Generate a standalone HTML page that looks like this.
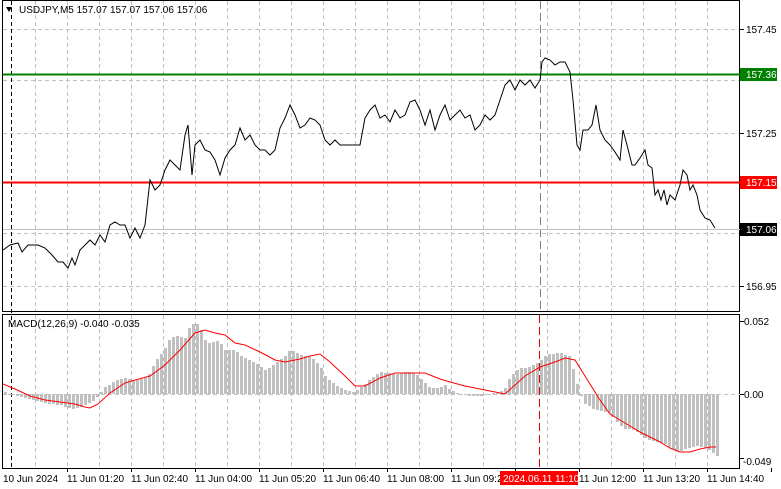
<!DOCTYPE html>
<html><head><meta charset="utf-8"><style>
html,body{margin:0;padding:0;background:#fff;width:781px;height:489px;overflow:hidden}
svg{display:block}
text{font-family:"Liberation Sans",Tahoma,sans-serif;font-size:10px;fill:#000}
</style></head><body>
<svg id="s" width="781" height="489" viewBox="0 0 781 489" xmlns="http://www.w3.org/2000/svg">
<rect x="0" y="0" width="781" height="489" fill="#fff"/>
<g id="grid" stroke="#c0c0c0" stroke-dasharray="4,3" stroke-width="1"></g>
<!-- frames -->
<rect x="2.5" y="0.5" width="737" height="311" fill="none" stroke="#000"/>
<rect x="2.5" y="314.5" width="737" height="154" fill="none" stroke="#000"/>
<!-- tick marks right -->
<g stroke="#000" id="ticks"></g>
<line x1="11.5" y1="1" x2="11.5" y2="468" stroke="#000" stroke-dasharray="4,3"/>
<line x1="540.5" y1="1" x2="540.5" y2="311" stroke="#808080" stroke-dasharray="8,4"/>
<line x1="539.5" y1="315" x2="539.5" y2="468" stroke="#e00000" stroke-dasharray="8,4"/>
<!-- levels -->
<line x1="3" y1="74.5" x2="740" y2="74.5" stroke="#008000" stroke-width="2"/>
<line x1="3" y1="182.5" x2="740" y2="182.5" stroke="#ff0000" stroke-width="2"/>
<line x1="3" y1="229.5" x2="740" y2="229.5" stroke="#c0c0c0"/>
<line x1="3" y1="394.5" x2="740" y2="394.5" stroke="#c0c0c0" stroke-dasharray="4,3"/>
<g id="hist" fill="#c0c0c0"></g>
<path id="price" fill="none" stroke="#000" stroke-width="1"/>
<path id="sig" fill="none" stroke="#ff0000" stroke-width="1"/>
<!-- right labels -->
<text x="746" y="33">157.45</text>
<text x="746" y="137">157.25</text>
<text x="746" y="290">156.95</text>
<rect x="740" y="68" width="37" height="13" fill="#008000"/>
<text x="746" y="78" style="fill:#fff">157.36</text>
<rect x="740" y="176" width="37" height="13" fill="#ff0000"/>
<text x="746" y="186" style="fill:#fff">157.15</text>
<rect x="740" y="223" width="37" height="13" fill="#000"/>
<text x="746" y="233" style="fill:#fff">157.06</text>
<text x="744" y="325">0.052</text>
<text x="744" y="398">0.00</text>
<text x="743" y="465">-0.049</text>
<!-- titles -->
<path d="M6 7 L12 7 L9 12 Z" fill="#000"/>
<text x="19" y="13">USDJPY,M5  157.07 157.07 157.06 157.06</text>
<text x="8" y="327">MACD(12,26,9) -0.040 -0.035</text>
<!-- time labels -->
<g id="tl"></g>
</svg>
<script>
var NS="http://www.w3.org/2000/svg";
function el(t,a,p){var e=document.createElementNS(NS,t);for(var k in a)e.setAttribute(k,a[k]);(p||document.getElementById('s')).appendChild(e);return e;}
var g=document.getElementById('grid');
for(var x=35;x<740;x+=32){el('line',{x1:x+.5,y1:1,x2:x+.5,y2:311},g);el('line',{x1:x+.5,y1:315,x2:x+.5,y2:468},g);}
[29,80,133,182,233,286].forEach(function(y){el('line',{x1:3,y1:y+.5,x2:740,y2:y+.5},g);});
var tk=document.getElementById('ticks');
[29,80,133,182,233,286,321,394,458].forEach(function(y){el('line',{x1:740,y1:y+.5,x2:744,y2:y+.5},tk);});
var tl=document.getElementById('tl');
var labs=["10 Jun 2024","11 Jun 01:20","11 Jun 02:40","11 Jun 04:00","11 Jun 05:20","11 Jun 06:40","11 Jun 08:00","11 Jun 09:20","","11 Jun 12:00","11 Jun 13:20","11 Jun 14:40"];
labs.forEach(function(l,i){var x=3+i*64;if(l){var t=el('text',{x:x,y:482},tl);t.textContent=l;}
 el('line',{x1:x+64+.5,y1:468,x2:x+64+.5,y2:472},tl).setAttribute('stroke','#000');});
el('rect',{x:500,y:471,width:78,height:14,fill:'#ff0000'},tl);
var tt=el('text',{x:503,y:482,style:'fill:#fff'},tl);tt.textContent="2024.06.11 11:10";
var P=[[3,250],[10,245],[18,243],[22,252],[28,245],[38,245],[45,248],[52,255],[58,262],[63,262],[68,268],[72,258],[75,265],[80,250],[85,245],[90,240],[95,245],[100,235],[105,242],[110,225],[115,222],[120,225],[125,225],[130,238],[135,228],[140,238],[145,225],[150,180],[155,190],[160,185],[165,170],[170,160],[175,165],[180,170],[185,135],[188,125],[192,175],[195,145],[200,140],[205,150],[210,152],[215,160],[220,175],[225,158],[230,150],[235,145],[240,128],[245,140],[250,135],[255,145],[260,150],[265,150],[270,155],[275,150],[280,128],[285,118],[290,105],[295,115],[300,128],[305,125],[310,118],[315,120],[320,125],[325,140],[330,145],[335,140],[340,145],[350,145],[360,145],[365,118],[370,110],[375,105],[380,118],[385,115],[390,122],[395,110],[400,118],[405,115],[410,102],[415,100],[420,110],[425,125],[430,110],[435,130],[440,115],[445,105],[450,120],[455,115],[460,110],[465,118],[470,115],[475,130],[480,125],[485,115],[490,120],[495,115],[500,100],[505,85],[510,80],[515,90],[520,80],[525,85],[530,80],[535,88],[540,80],[542,62],[545,58],[550,60],[555,65],[560,62],[565,62],[570,72],[573,100],[577,145],[580,150],[583,130],[588,130],[592,125],[596,105],[600,130],[605,140],[610,145],[615,152],[620,160],[623,130],[627,145],[632,165],[635,165],[640,158],[645,150],[648,165],[652,168],[655,195],[658,190],[661,200],[664,190],[667,205],[670,195],[675,200],[680,185],[683,170],[687,175],[690,190],[693,185],[697,195],[700,210],[705,218],[710,220],[715,228]];
document.getElementById('price').setAttribute('d','M'+P.map(function(p){return p.join(' ')}).join(' L'));
var H=[[5,392],[15,396],[25,398],[35,400],[45,403],[60,405],[70,408],[75,409],[85,405],[95,400],[100,393],[105,387],[115,381],[125,378],[135,380],[145,378],[150,373],[155,362],[160,355],[165,348],[170,338],[175,336],[180,337],[185,338],[190,326],[195,322],[200,328],[205,340],[210,344],[215,340],[220,342],[225,350],[235,350],[240,355],[245,358],[255,363],[265,370],[270,368],[275,363],[285,356],[290,350],[295,352],[300,355],[310,356],[320,366],[325,376],[335,385],[345,390],[355,392],[360,388],[365,384],[375,375],[380,372],[395,374],[405,372],[415,373],[420,378],[430,388],[440,388],[445,385],[450,390],[455,392],[460,394],[470,396],[480,396],[490,394],[500,392],[505,388],[510,377],[515,372],[520,368],[530,367],[535,364],[540,361],[545,356],[550,354],[560,353],[570,356],[575,378],[580,394],[585,404],[595,410],[605,412],[610,413],[615,420],[620,425],[625,429],[635,430],[645,438],[655,442],[665,444],[670,448],[680,452],[685,449],[695,446],[705,448],[712,452],[716,456]];
function interp(A,x){if(x<=A[0][0])return A[0][1];for(var i=1;i<A.length;i++){if(x<=A[i][0]){var a=A[i-1],b=A[i];return a[1]+(b[1]-a[1])*(x-a[0])/(b[0]-a[0]);}}return A[A.length-1][1];}
var hg=document.getElementById('hist');
for(var x=4;x<=716;x+=4){var y=Math.round(interp(H,x+1));var t=Math.min(y,394),h=Math.abs(y-394);if(h<1)h=1;el('rect',{x:x,y:t,width:3,height:h},hg);}
var S=[[3,384],[15,389],[30,396],[45,400],[60,402],[75,404],[85,407],[90,408],[98,404],[110,393],[125,383],[135,380],[150,376],[165,365],[180,350],[195,333],[205,330],[215,333],[225,335],[235,343],[245,345],[260,352],[275,360],[285,362],[300,359],[310,356],[320,354],[330,362],[345,376],[355,386],[365,386],[380,378],[395,373],[410,373],[425,373],[440,379],[450,382],[465,386],[480,389],[490,391],[505,394],[515,385],[525,376],[540,367],[555,362],[565,358],[575,360],[585,376],[600,400],[610,414],[620,420],[630,426],[640,432],[650,437],[660,442],[670,448],[680,452],[690,452],[700,449],[710,447],[716,447]];
document.getElementById('sig').setAttribute('d','M'+S.map(function(p){return p.join(' ')}).join(' L'));
</script>
</body></html>
